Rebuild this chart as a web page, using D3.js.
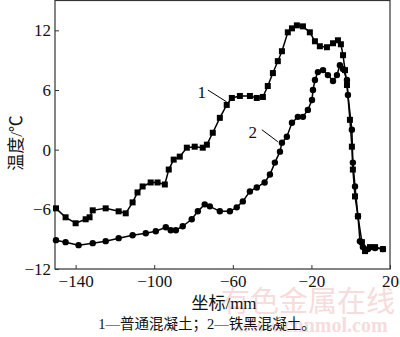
<!DOCTYPE html>
<html>
<head>
	<meta charset="utf-8">
	<title>温度 - 坐标</title>
	<style>
		body { margin: 0; background: #fff; }
		text { font-family: "Liberation Serif", "Noto Sans CJK SC", serif; fill: #111; }
	</style>
</head>
<body>
	<script src="https://d3js.org/d3.v7.min.js" charset="utf-8"></script>
	<script>
// curve 1: 普通混凝土 (square markers)
var x1 = [-150, -145.1, -140, -134.9, -132.9, -131.3, -124.7, -118.1, -114.5, -111.0, -108.5, -105.9, -101.8, -98.3, -94.6, -92.6, -90.1, -87.0, -83.4, -79.4, -75.3, -73.2, -70.2, -66.6, -63.1, -60.5, -56.4, -51.3, -47.8, -44.7, -42.2, -39.6, -37.1, -35.0, -32.0, -29.9, -27.4, -24.3, -20.8, -18.2, -15.7, -12.1, -9.0, -6.5, -5.0, -3.9, -2.9, -1.9, -0.4, 0.6, 1.1, 2.2, 3.7, 5.7, 7.3, 9.8, 12.4, 16.4];
var y1 = [-5.9, -6.8, -7.4, -7.0, -6.8, -6.1, -5.9, -6.2, -6.4, -5.3, -4.3, -3.7, -3.3, -3.3, -3.5, -2.0, -1.0, -0.7, 0.2, 0.3, 0.2, 0.5, 1.7, 3.2, 4.5, 5.2, 5.4, 5.4, 5.2, 5.3, 6.4, 7.7, 8.9, 9.9, 11.8, 12.2, 12.5, 12.4, 11.8, 10.9, 10.4, 10.3, 10.7, 11.0, 10.6, 9.5, 8.0, 6.5, 3.0, 0.3, -2.0, -4.7, -6.7, -9.3, -10.2, -9.8, -9.8, -10.0];

// curve 2: 铁黑混凝土 (circle markers)
var x2 = [-150, -145.1, -138.5, -131.3, -124.7, -118.1, -111.0, -104.3, -99.2, -94.1, -91.6, -89.0, -85.5, -80.9, -77.8, -74.3, -71.7, -66.6, -61.5, -58.0, -54.9, -51.3, -47.8, -43.8, -41.1, -38.6, -36.0, -35.0, -32.5, -29.9, -26.9, -24.3, -21.8, -19.7, -19.2, -18.2, -16.7, -14.1, -11.6, -9.0, -7.0, -5.5, -3.9, -1.9, -1.4, 0.6, 1.1, 2.2, 3.7, 4.7, 6.2, 8.8, 12.4, 16.4];
var y2 = [-9.1, -9.3, -9.6, -9.4, -9.2, -8.9, -8.6, -8.4, -8.2, -7.8, -8.1, -8.1, -7.7, -7.0, -6.2, -5.5, -5.7, -6.2, -6.2, -5.8, -5.2, -4.2, -3.8, -3.3, -2.5, -1.3, -0.2, 0.7, 1.3, 2.7, 3.3, 3.3, 4.0, 5.0, 6.0, 7.0, 7.8, 8.0, 7.5, 6.9, 7.5, 8.5, 8.1, 7.0, 5.5, 2.0, -1.3, -3.7, -6.7, -9.2, -9.8, -10.0, -9.9, -10.0];

var xTicks = [-140, -100, -60, -20, 20];
var yTicks = [-12, -6, 0, 6, 12];

var labels = ['1', '2'];
var labelPos = [[-75.8, 5.8], [-49.8, 1.8]];
var leaders = [[[-72.7, 6.0], [-63.1, 4.8]], [[-45.2, 2.0], [-37.1, 0.8]]];

var xTitle = '坐标/mm';
var yTitle = '温度/℃';
var caption = '1—普通混凝土；2—铁黑混凝土。';

var width = 400, height = 337;
// plot box edges (note: "top" is a reserved window global, so use other names)
var pLeft = 55, pRight = 390, pTop = 0.5, pBottom = 269;

var svg = d3.select('body').append('svg')
			.attr('width', width)
			.attr('height', height);

var x = d3.scaleLinear().domain([-150.5, 20]).range([pLeft, pRight]);
var y = d3.scaleLinear().domain([-12, 15]).range([pBottom, pTop]);

// watermark, faint
svg.append('text')
	.attr('x', 308).attr('y', 312)
	.attr('text-anchor', 'middle')
	.style('font-size', '29px')
	.style('font-family', '"Noto Sans CJK SC"')
	.style('fill', '#f6dcdc')
	.text('有色金属在线');
svg.append('text')
	.attr('x', 312).attr('y', 332)
	.attr('text-anchor', 'middle')
	.style('font-size', '20px')
	.style('font-weight', 'bold')
	.style('fill', '#f6dcdc')
	.text('www.cnnmol.com');

// frame
svg.append('rect')
	.attr('x', pLeft).attr('y', pTop)
	.attr('width', pRight - pLeft).attr('height', pBottom - pTop)
	.attr('fill', 'none')
	.attr('stroke', '#333')
	.attr('stroke-width', 1.2);

var fmt = function(d) { return d < 0 ? '\u2212' + Math.abs(d) : d; };

var xAxis = svg.append('g')
	.attr('transform', 'translate(0,' + pBottom + ')')
	.call(d3.axisBottom(x).tickValues(xTicks).tickSizeInner(-4).tickSizeOuter(0).tickPadding(6).tickFormat(fmt));
xAxis.select('.domain').remove();
xAxis.selectAll('line').attr('stroke', '#333');
xAxis.selectAll('text').style('font-size', '17px').style('font-family', '"Liberation Serif"').style('fill', '#111');

var yAxis = svg.append('g')
	.attr('transform', 'translate(' + pLeft + ',0)')
	.call(d3.axisLeft(y).tickValues(yTicks).tickSizeInner(-4).tickSizeOuter(0).tickPadding(4).tickFormat(fmt));
yAxis.select('.domain').remove();
yAxis.selectAll('line').attr('stroke', '#333');
yAxis.selectAll('text').style('font-size', '17px').style('font-family', '"Liberation Serif"').style('fill', '#111');

// curves
var line = d3.line()
	.x(function(d) { return x(d[0]); })
	.y(function(d) { return y(d[1]); });

var pts1 = x1.map(function(v, i) { return [v, y1[i]]; });
var pts2 = x2.map(function(v, i) { return [v, y2[i]]; });

svg.append('path').datum(pts1)
	.attr('d', line).attr('fill', 'none').attr('stroke', '#000').attr('stroke-width', 1.5);
svg.append('path').datum(pts2)
	.attr('d', line).attr('fill', 'none').attr('stroke', '#000').attr('stroke-width', 1.5);

svg.selectAll('rect.m1').data(pts1).enter()
	.append('rect')
	.attr('class', 'm1')
	.attr('x', function(d) { return x(d[0]) - 3; })
	.attr('y', function(d) { return y(d[1]) - 3; })
	.attr('width', 6).attr('height', 6)
	.attr('fill', '#000');

svg.selectAll('circle.m2').data(pts2).enter()
	.append('circle')
	.attr('class', 'm2')
	.attr('cx', function(d) { return x(d[0]); })
	.attr('cy', function(d) { return y(d[1]); })
	.attr('r', 3.2)
	.attr('fill', '#000');

// curve labels with leader lines
svg.selectAll('line.leader').data(leaders).enter()
	.append('line')
	.attr('class', 'leader')
	.attr('x1', function(d) { return x(d[0][0]); })
	.attr('y1', function(d) { return y(d[0][1]); })
	.attr('x2', function(d) { return x(d[1][0]); })
	.attr('y2', function(d) { return y(d[1][1]); })
	.attr('stroke', '#000').attr('stroke-width', 1);

svg.selectAll('text.lab').data(labels).enter()
	.append('text')
	.attr('class', 'lab')
	.attr('x', function(d, i) { return x(labelPos[i][0]); })
	.attr('y', function(d, i) { return y(labelPos[i][1]); })
	.attr('text-anchor', 'middle')
	.attr('dy', '0.35em')
	.style('font-size', '17px')
	.text(function(d) { return d; });

// titles
svg.append('text')
	.attr('transform', 'translate(16,143) rotate(-90)')
	.attr('text-anchor', 'middle')
	.attr('dy', '0.35em')
	.style('font-size', '17px')
	.text(yTitle);

svg.append('text')
	.attr('x', 224).attr('y', 303)
	.attr('text-anchor', 'middle')
	.attr('dy', '0.35em')
	.style('font-size', '17px')
	.text(xTitle);

svg.append('text')
	.attr('x', 207).attr('y', 324)
	.attr('text-anchor', 'middle')
	.attr('dy', '0.35em')
	.style('font-size', '14.5px')
	.text(caption);
	</script>
</body>
</html>
